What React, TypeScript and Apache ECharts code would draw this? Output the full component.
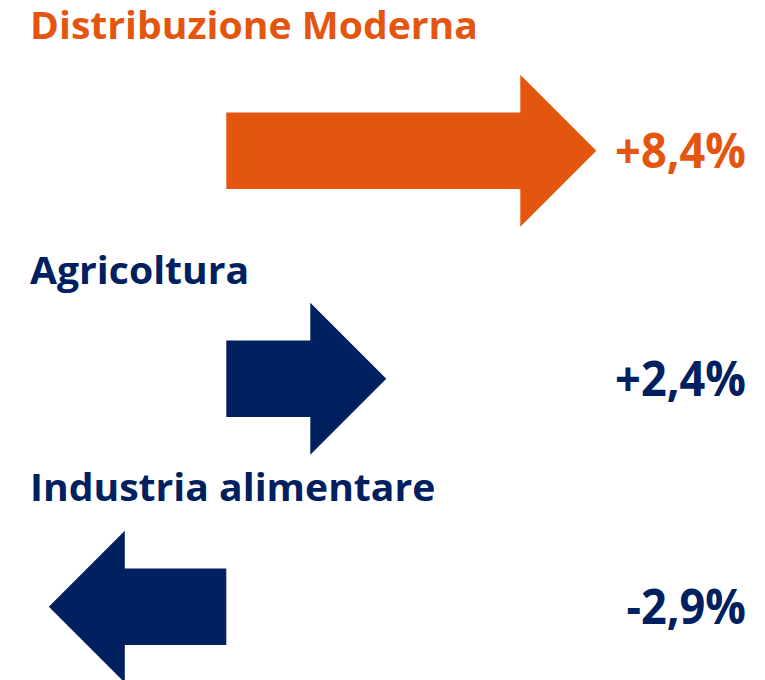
import React, { useEffect, useRef } from "react";
import * as echarts from "echarts";

// ---- data ----
const categories = ["Distribuzione Moderna", "Agricoltura", "Industria alimentare"];
const values = [8.4, 2.4, -2.9];
const valueLabels = ["+8,4%", "+2,4%", "-2,9%"];
const highlighted = "Distribuzione Moderna";

// ---- styles / layout ----
const ORANGE = "#E4560F";
const NAVY = "#00205F";
const FONT = "'Open Sans', 'Noto Sans', sans-serif";
const TITLE_SIZE = 38;
const TITLE_SCALE_X = 1.03;
const VALUE_SIZE = 48;
const VALUE_SCALE_X = 0.94;
const CENTRAL = 0.388; // central baseline offset (em) of the font
const TITLE_BASELINES = [39.3, 284.3, 501];
const SHAFT_HALF = 38.2;
const HEAD_HALF = 76;
const HEAD_LEN = 76;

export default function App() {
  const ref = useRef<HTMLDivElement>(null);

  useEffect(() => {
    if (!ref.current) return;
    const chart = echarts.init(ref.current, undefined, { renderer: "svg" });

    const option: any = {
      animation: false,
      backgroundColor: "#ffffff",
      grid: { left: 16.3, width: 700, top: 150.7, height: 456 },
      xAxis: { type: "value", min: -6, max: 14, show: false },
      yAxis: { type: "value", min: 0, max: 2, inverse: true, show: false },
      series: [
        {
          type: "custom",
          clip: false,
          data: values.map((v, i) => [v, i]),
          renderItem: (params: any, api: any) => {
            const i = params.dataIndex;
            const v = api.value(0);
            const row = api.value(1);
            const [x0, cy] = api.coord([0, row]);
            const [x1] = api.coord([v, row]);
            const dir = v >= 0 ? 1 : -1;
            const tip = x1 + dir * HEAD_LEN;
            const color = categories[i] === highlighted ? ORANGE : NAVY;
            const points = [
              [x0, cy - SHAFT_HALF],
              [x1, cy - SHAFT_HALF],
              [x1, cy - HEAD_HALF],
              [tip, cy],
              [x1, cy + HEAD_HALF],
              [x1, cy + SHAFT_HALF],
              [x0, cy + SHAFT_HALF],
            ];
            return {
              type: "group",
              children: [
                { type: "polygon", shape: { points }, style: { fill: color } },
                {
                  type: "text",
                  x: 30,
                  y: TITLE_BASELINES[i] - CENTRAL * TITLE_SIZE,
                  scaleX: TITLE_SCALE_X,
                  style: {
                    text: categories[i],
                    fill: color,
                    font: `bold ${TITLE_SIZE}px ${FONT}`,
                    align: "left",
                    verticalAlign: "middle",
                  },
                },
                {
                  type: "text",
                  x: 746,
                  y: cy + 17 - CENTRAL * VALUE_SIZE,
                  scaleX: VALUE_SCALE_X,
                  style: {
                    text: valueLabels[i],
                    fill: color,
                    font: `bold ${VALUE_SIZE}px ${FONT}`,
                    align: "right",
                    verticalAlign: "middle",
                  },
                },
              ],
            };
          },
        },
      ],
    };
    chart.setOption(option);
    return () => chart.dispose();
  }, []);

  return (
    <div
      ref={ref}
      style={{ position: "fixed", left: 0, top: 0, width: 765, height: 680 }}
    />
  );
}
